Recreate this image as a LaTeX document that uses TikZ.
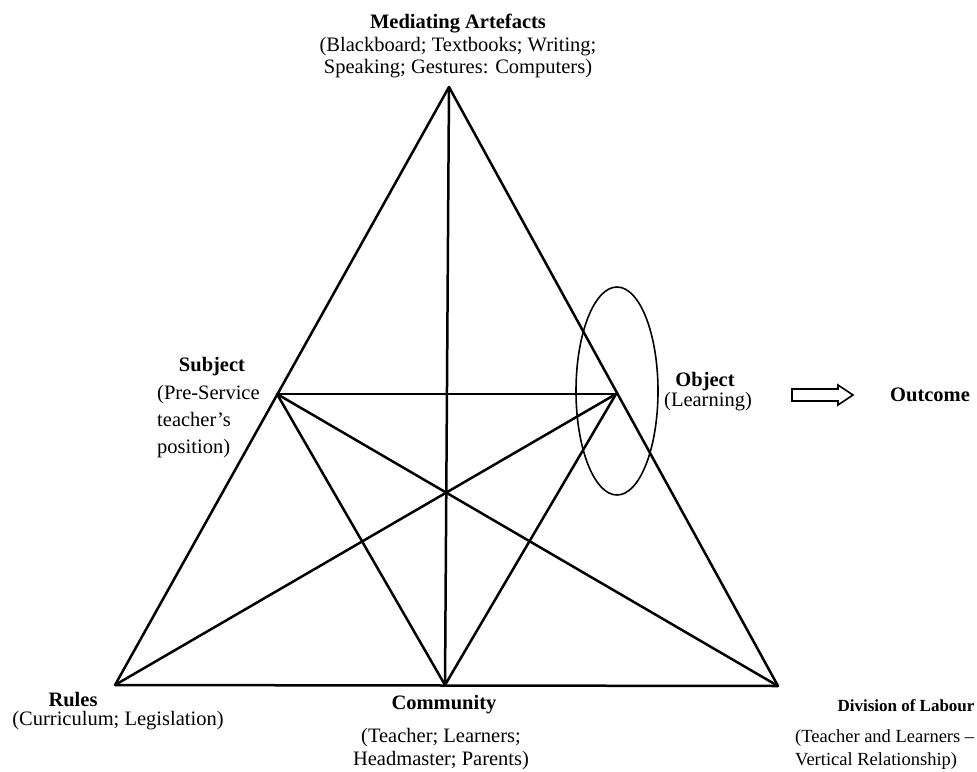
\documentclass[tikz,border=0pt]{standalone}
\usepackage{fontspec}
\setmainfont{Liberation Serif}
\begin{document}
\begin{tikzpicture}[x=1pt,y=-1pt,
  edge/.style={line width=2.5pt, line cap=round, line join=round},
  thin/.style={line width=1.6pt},
  lbl/.style={inner sep=0pt, font=\fontsize{20.5}{24}\selectfont},
  ttl/.style={inner sep=0pt, font=\fontsize{20.5}{24}\selectfont\bfseries},
  lbls/.style={inner sep=0pt, font=\fontsize{18.5}{22}\selectfont},
  ttls/.style={inner sep=0pt, font=\fontsize{17}{20}\selectfont\bfseries}]
\useasboundingbox (0,0) rectangle (977,771);
% vertices
\coordinate (A) at (449,87);
\coordinate (R) at (115,685);
\coordinate (C) at (445,685);
\coordinate (D) at (778,686);
\coordinate (S) at (277,394);
\coordinate (O) at (616,394);
% connectors
\draw[edge] (A) -- (R) -- (D) -- cycle;
\draw[edge] (A) -- (C);
\draw[edge] (S) -- (O);
\draw[edge] (S) -- (C);
\draw[edge] (O) -- (C);
\draw[edge] (S) -- (D);
\draw[edge] (O) -- (R);
% ellipse around object
\draw[thin] (617,391) ellipse [x radius=41, y radius=104];
% outcome arrow
\draw[thin, line join=miter] (792,389) -- (838,389) -- (838,385) -- (853,395) -- (838,405) -- (838,401) -- (792,401) -- cycle;
% labels
\node[ttl, anchor=base] (medt) at (458,28) {Mediating Artefacts};
\node[lbl, anchor=base] (med1) at (458,51) {(Blackboard; Textbooks; Writing;};
\node[lbl, anchor=base] (med2) at (458,73) {Speaking; Gestures: Computers)};
\node[ttl, anchor=base] (subt) at (212,371) {Subject};
\node[lbl, anchor=base west] (sub1) at (157,399) {(Pre-Service};
\node[lbl, anchor=base west] (sub2) at (157,426) {teacher’s};
\node[lbl, anchor=base west] (sub3) at (157,453) {position)};
\node[ttl, anchor=base] (objt) at (705,386) {Object};
\node[lbl, anchor=base] (obj1) at (708,406) {(Learning)};
\node[ttl, anchor=base] (outc) at (930,401) {Outcome};
\node[ttl, anchor=base] (rult) at (73,706) {Rules};
\node[lbl, anchor=base] (rul1) at (118,725) {(Curriculum; Legislation)};
\node[ttl, anchor=base] (comt) at (444,709) {Community};
\node[lbl, anchor=base] (com1) at (441,742) {(Teacher; Learners;};
\node[lbl, anchor=base] (com2) at (441,765) {Headmaster; Parents)};
\node[ttls, anchor=base] (divt) at (906,711) {Division of Labour};
\node[lbls, anchor=base west] (div1) at (795,742) {(Teacher and Learners –};
\node[lbls, anchor=base west] (div2) at (795,765) {Vertical Relationship)};
\end{tikzpicture}
\end{document}
